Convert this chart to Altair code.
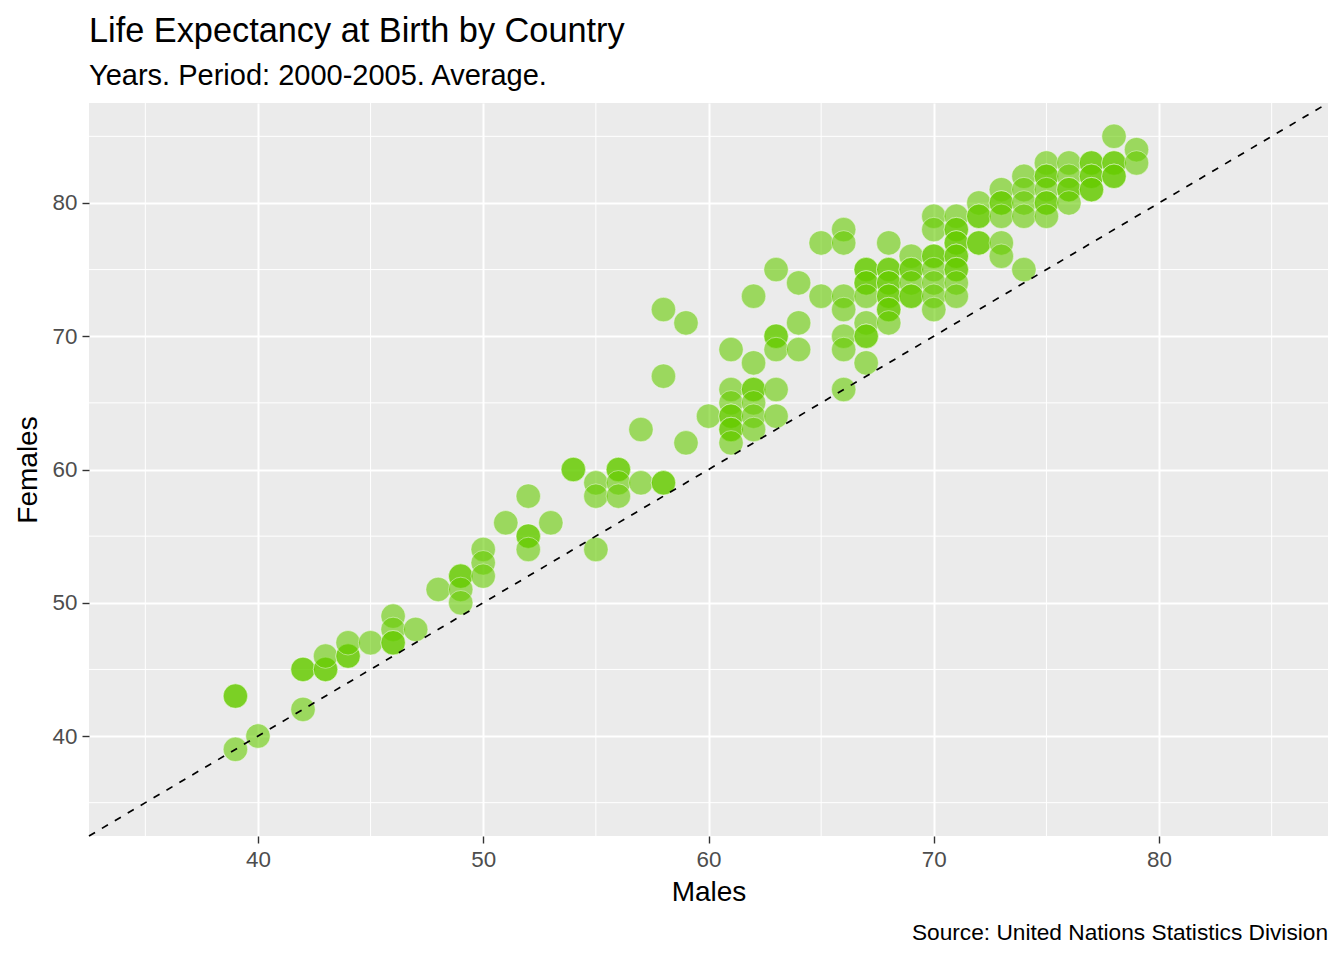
import altair as alt
import pandas as pd

# Life expectancy at birth (years), 2000-2005 average, one entry per country
males = [
    39, 39, 39, 40, 42, 42, 42, 43, 43, 43, 44, 44, 44, 45, 46, 46, 46, 46, 47, 48,
    49, 49, 49, 49, 50, 50, 50, 51, 52, 52, 52, 52, 53, 54, 54, 55, 55, 55, 56, 56,
    56, 56, 57, 57, 58, 58, 58, 58, 59, 59, 60, 61, 61, 61, 61, 61, 61, 61, 61, 62,
    62, 62, 62, 62, 62, 62, 63, 63, 63, 63, 63, 63, 64, 64, 64, 65, 65, 66, 66, 66,
    66, 66, 66, 66, 67, 67, 67, 67, 67, 67, 67, 67, 67, 68, 68, 68, 68, 68, 68, 68,
    68, 68, 68, 69, 69, 69, 69, 69, 69, 70, 70, 70, 70, 70, 70, 70, 70, 71, 71, 71,
    71, 71, 71, 71, 71, 71, 71, 71, 72, 72, 72, 72, 72, 73, 73, 73, 73, 73, 73, 74,
    74, 74, 74, 74, 75, 75, 75, 75, 75, 75, 75, 76, 76, 76, 76, 76, 77, 77, 77, 77,
    77, 77, 78, 78, 78, 78, 78, 79, 79,
]
females = [
    43, 43, 39, 40, 42, 45, 45, 45, 45, 46, 46, 46, 47, 47, 49, 48, 47, 47, 48, 51,
    52, 52, 51, 50, 54, 53, 52, 56, 58, 55, 55, 54, 56, 60, 60, 59, 58, 54, 60, 60,
    59, 58, 59, 63, 59, 59, 72, 67, 71, 62, 64, 69, 66, 65, 64, 64, 63, 63, 62, 68,
    66, 66, 65, 64, 63, 73, 66, 64, 70, 70, 69, 75, 71, 69, 74, 77, 73, 78, 77, 73,
    72, 70, 69, 66, 75, 75, 74, 74, 73, 71, 70, 70, 68, 77, 75, 75, 74, 74, 73, 73,
    72, 72, 71, 76, 75, 75, 74, 73, 73, 79, 78, 76, 76, 75, 74, 73, 72, 79, 78, 78,
    77, 77, 76, 76, 75, 75, 74, 73, 80, 79, 79, 77, 77, 81, 80, 80, 79, 77, 76, 82,
    81, 80, 79, 75, 83, 82, 82, 81, 80, 80, 79, 83, 82, 81, 81, 80, 83, 83, 82, 82,
    81, 81, 85, 83, 83, 82, 82, 84, 83,
]

major_breaks = [40, 50, 60, 70, 80]
minor_breaks = [35, 45, 55, 65, 75, 85]
axis_domain = [32.5, 87.5]
diagonal = [32.5, 87.5]

title_text = "Life Expectancy at Birth by Country"
subtitle_text = "Years. Period: 2000-2005. Average."
caption_text = ["Source: United Nations Statistics Division"]

FONT = "Liberation Sans"
W, H = 1239, 733

points = pd.DataFrame({"Males": males, "Females": females})
minor = pd.DataFrame({"v": minor_breaks})
diag = pd.DataFrame({"Males": diagonal, "Females": diagonal})
cap = pd.DataFrame({"caption": caption_text})

xs = alt.Scale(domain=axis_domain, nice=False, zero=False)
ys = alt.Scale(domain=axis_domain, nice=False, zero=False)

x_axis = alt.Axis(values=major_breaks, title="Males", labelPadding=5, titlePadding=8)
y_axis = alt.Axis(values=major_breaks, title="Females", labelPadding=5, titlePadding=10)

minor_x = alt.Chart(minor).mark_rule(color="white", strokeWidth=1).encode(
    x=alt.X("v:Q", scale=xs, axis=x_axis)
)
minor_y = alt.Chart(minor).mark_rule(color="white", strokeWidth=1).encode(
    y=alt.Y("v:Q", scale=ys, axis=y_axis)
)

pts = alt.Chart(points).mark_circle(
    size=600, color="#66CC00", fillOpacity=0.6, stroke="white",
    strokeWidth=0.8, strokeOpacity=0.55,
).encode(
    x=alt.X("Males:Q", scale=xs, axis=x_axis),
    y=alt.Y("Females:Q", scale=ys, axis=y_axis),
)

line = alt.Chart(diag).mark_line(
    color="black", strokeWidth=1.7, strokeDash=[7, 8]
).encode(
    x=alt.X("Males:Q", scale=xs, axis=x_axis),
    y=alt.Y("Females:Q", scale=ys, axis=y_axis),
)

caption = alt.Chart(cap).mark_text(
    align="right", baseline="alphabetic", fontSize=22.7, font=FONT, color="black"
).encode(
    text="caption:N",
    x=alt.value(W),
    y=alt.value(H + 104),
)

chart = alt.layer(minor_x, minor_y, pts, line, caption).properties(
    width=W,
    height=H,
    title=alt.TitleParams(
        text=title_text,
        subtitle=subtitle_text,
        anchor="start",
        frame="group",
        font=FONT,
        fontSize=34.3,
        fontWeight="normal",
        color="black",
        subtitleFont=FONT,
        subtitleFontSize=29,
        subtitleColor="black",
        subtitlePadding=12,
        offset=9,
    ),
    autosize=alt.AutoSizeParams(type="none"),
    padding={"left": 81, "top": 95, "right": 8, "bottom": 108},
).configure_view(
    fill="#EBEBEB", stroke=None
).configure_axis(
    domain=False,
    grid=True,
    gridColor="white",
    gridWidth=2,
    tickColor="#333333",
    tickSize=7,
    tickWidth=1.4,
    labelColor="#4D4D4D",
    labelFont=FONT,
    labelFontSize=22.4,
    titleFont=FONT,
    titleFontSize=28,
    titleFontWeight="normal",
    titleColor="black",
)

chart.save("out.html", embed_options={"renderer": "svg", "actions": False})
